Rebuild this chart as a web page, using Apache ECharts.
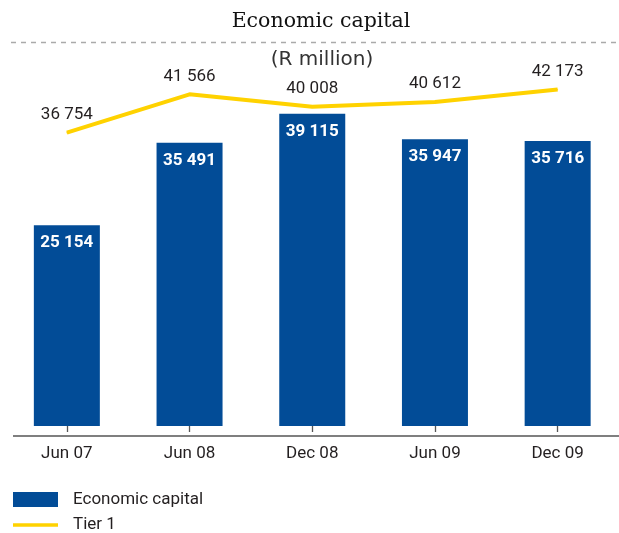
<!DOCTYPE html>
<html>
<head>
<meta charset="utf-8">
<script src="https://cdn.jsdelivr.net/npm/echarts@6/dist/echarts.min.js"></script>
<style>
html,body{margin:0;padding:0;background:#fff;}
#chart{width:619px;height:533px;}
</style>
</head>
<body>
<div id="chart"></div>
<script>
const categories = ['Jun 07', 'Jun 08', 'Dec 08', 'Jun 09', 'Dec 09'];
const economicCapital = [25154, 35491, 39115, 35947, 35716];
const tier1 = [36754, 41566, 40008, 40612, 42173];
const titleText = 'Economic capital';
const subtitleText = '(R million)';

function fmt(v) {
  return String(v).replace(/\B(?=(\d{3})+(?!\d))/g, ' ');
}

const legendText = {color: '#231f20', fontFamily: 'Roboto', fontSize: 17, lineHeight: 20, padding: [0, 0, 0, 10]};

const chart = echarts.init(document.getElementById('chart'), null, {renderer: 'canvas'});
const option = {
  animation: false,
  backgroundColor: '#ffffff',
  grid: {left: 5.5, right: -18, top: 27, bottom: 107, containLabel: false},
  xAxis: {
    type: 'category',
    data: categories,
    offset: 10,
    axisLine: {show: false},
    axisTick: {show: true, alignWithLabel: true, length: 6, lineStyle: {color: '#555555', width: 1.3}},
    axisLabel: {color: '#231f20', fontFamily: 'Roboto', fontSize: 17, margin: 9}
  },
  yAxis: {
    type: 'value',
    min: 0,
    max: 50000,
    show: false,
    splitLine: {show: false}
  },
  legend: [
    {
      left: 13, top: 489.5, padding: 0,
      itemWidth: 45, itemHeight: 15,
      textStyle: legendText,
      data: [{name: 'Economic capital', icon: 'rect'}]
    },
    {
      left: 13, top: 515, padding: 0,
      itemWidth: 45, itemHeight: 15,
      textStyle: legendText,
      data: [{name: 'Tier 1', icon: 'path://M0,0H40V3H0Z'}]
    }
  ],
  graphic: [
    {type: 'text', x: 321, y: 22, silent: true,
      style: {text: titleText, textAlign: 'center', textVerticalAlign: 'middle',
        font: '20.5px "DejaVu Serif"', fill: '#111111'}},
    {type: 'line', silent: true,
      shape: {x1: 11, y1: 42.5, x2: 619, y2: 42.5},
      style: {stroke: '#aaaaaa', lineWidth: 1.5, lineDash: [5, 5]}},
    {type: 'text', x: 322, y: 60, silent: true,
      style: {text: subtitleText, textAlign: 'center', textVerticalAlign: 'middle',
        font: '20px "DejaVu Sans"', fill: '#333333'}},
    {type: 'line', silent: true,
      shape: {x1: 13, y1: 436, x2: 619, y2: 436},
      style: {stroke: '#555555', lineWidth: 1.3}}
  ],
  series: [
    {
      name: 'Economic capital',
      type: 'bar',
      data: economicCapital,
      barWidth: 66,
      itemStyle: {color: '#024c97'},
      label: {
        show: true,
        position: 'insideTop',
        distance: 9,
        color: '#ffffff',
        fontFamily: 'Roboto',
        fontWeight: 'bold',
        fontSize: 17,
        formatter: p => fmt(p.value)
      }
    },
    {
      name: 'Tier 1',
      type: 'line',
      data: tier1,
      symbol: 'circle',
      symbolSize: 1,
      showSymbol: true,
      lineStyle: {color: '#ffd200', width: 4},
      itemStyle: {color: '#ffd200'},
      label: {
        show: true,
        position: 'top',
        distance: 9,
        color: '#231f20',
        fontFamily: 'Roboto',
        fontSize: 17,
        formatter: p => fmt(p.value)
      },
      z: 5
    }
  ]
};
chart.setOption(option);
</script>
</body>
</html>
